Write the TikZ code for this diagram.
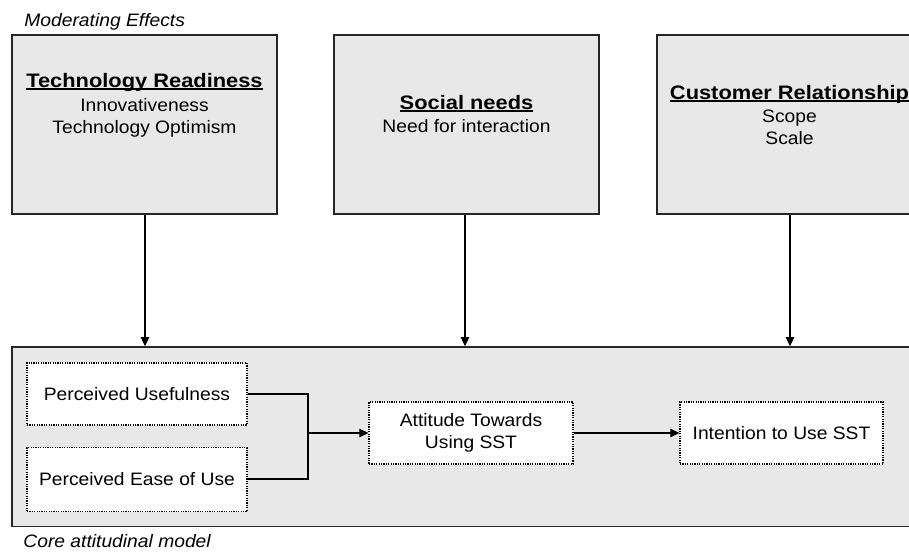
\documentclass[tikz,border=0pt]{standalone}
\usepackage{fontspec}
\setmainfont{Liberation Sans}[FakeStretch=1.07,BoldFeatures={FakeStretch=1.12}]
\usetikzlibrary{arrows.meta}
\definecolor{boxgrey}{HTML}{E8E8E8}
\newcommand\myul[1]{\leavevmode\setbox0\hbox{#1}\rlap{\vrule height -0.3pt depth 1.3pt width\wd0}\box0}
\tikzset{
  greybox/.style={draw=black!85, line width=0.8pt, fill=boxgrey, rectangle, inner sep=0pt},
  dotbox/.style={draw=black, line width=0.6pt, dash pattern=on 0.6pt off 0.6pt, fill=white, rectangle, inner sep=0pt, align=center, font=\fontsize{9pt}{11pt}\selectfont},
  txt/.style={anchor=base, inner sep=0pt, font=\fontsize{9pt}{11pt}\selectfont},
  ttl/.style={anchor=base, inner sep=0pt, font=\fontsize{9.75pt}{11pt}\selectfont\bfseries},
  lbl/.style={anchor=base west, inner sep=0pt, font=\fontsize{9pt}{11pt}\selectfont\itshape},
  arr/.style={line width=0.55pt, -{Triangle[width=4.2pt,length=4.5pt]}},
  con/.style={line width=0.55pt}
}
\begin{document}
\begin{tikzpicture}[x=0.5pt,y=-0.5pt]
\useasboundingbox (0,0) rectangle (909,552);
\clip (0,0) rectangle (909,552);
% labels
\node[lbl] (modlbl) at (24,26) {Moderating Effects};
\node[lbl] (corelbl) at (23,547) {Core attitudinal model};
% moderating boxes
\node[greybox, minimum width=132.5pt, minimum height=89.5pt] (b1) at (144.5,124.5) {};
\node[greybox, minimum width=132.5pt, minimum height=89.5pt] (b2) at (466.5,124.5) {};
\node[greybox, minimum width=132.5pt, minimum height=89.5pt] (b3) at (789.5,124.5) {};
\node[ttl] (t1) at (144.5,87) {\myul{Technology Readiness}};
\node[txt] (t1a) at (144.5,111) {Innovativeness};
\node[txt] (t1b) at (144.5,133) {Technology Optimism};
\node[ttl] (t2) at (466.5,109) {\myul{Social needs}};
\node[txt] (t2a) at (466.5,132) {Need for interaction};
\node[ttl] (t3) at (789.5,99) {\myul{Customer Relationship}};
\node[txt] (t3a) at (789.5,122) {Scope};
\node[txt] (t3b) at (789.5,144) {Scale};
% core box
\node[greybox, minimum width=462pt, minimum height=89.75pt] (core) at (474,436.75) {};
\node[dotbox, minimum width=110pt, minimum height=31pt] (pu) at (137,394) {Perceived Usefulness};
\node[dotbox, minimum width=110pt, minimum height=32pt] (peou) at (137,479.5) {Perceived Ease of Use};
\node[dotbox, minimum width=102pt, minimum height=31pt] (att) at (471,433) {Attitude Towards\\Using SST};
\node[dotbox, minimum width=101.5pt, minimum height=31pt] (int) at (781.5,433) {Intention to Use SST};
\coordinate (j) at (308,433);
% connectors
\draw[arr] (b1.south -| 145,0) -- (145,0 |- core.north);
\draw[arr] (b2.south -| 465,0) -- (465,0 |- core.north);
\draw[arr] (b3.south -| 790,0) -- (790,0 |- core.north);
\draw[con] (pu.east |- 0,394) -| (j);
\draw[con] (peou.east |- 0,479) -| (j);
\draw[arr] (j) -- (att.west);
\draw[arr] (att.east) -- (int.west);
\end{tikzpicture}
\end{document}
